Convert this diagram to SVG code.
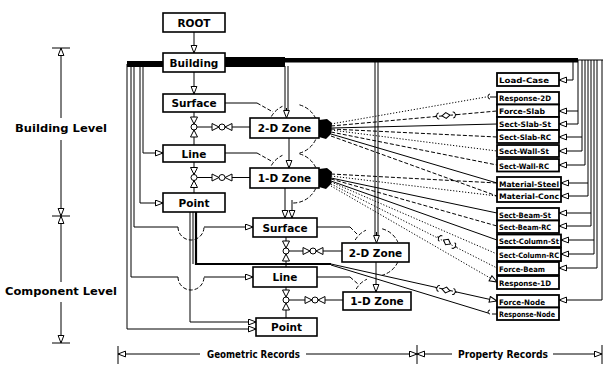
<svg xmlns="http://www.w3.org/2000/svg" width="612" height="383" viewBox="0 0 612 383">
<defs>
<marker id="a" markerUnits="userSpaceOnUse" markerWidth="10" markerHeight="8" refX="8.5" refY="3.5" orient="auto"><path d="M1,0.6 L8.5,3.5 L1,6.4 Z" fill="#fff" stroke="#000" stroke-width="1"/></marker>
<g id="vb"><path d="M-3.5,-10 L3.5,-10 L0,-3 Z M-3.5,10 L3.5,10 L0,3 Z" fill="#fff" stroke="#000" stroke-width="1"/><circle r="3" fill="#fff" stroke="#000" stroke-width="1"/></g>
<g id="hb"><path d="M-10,-3.5 L-10,3.5 L-3,0 Z M10,-3.5 L10,3.5 L3,0 Z" fill="#fff" stroke="#000" stroke-width="1"/><circle r="3" fill="#fff" stroke="#000" stroke-width="1"/></g>
<g id="brace"><path d="M-7,-3 q-2,0 -2,1.5 q0,1.5 -2,1.5 q2,0 2,1.5 q0,1.5 2,1.5 M7,-3 q2,0 2,1.5 q0,1.5 2,1.5 q-2,0 -2,1.5 q0,1.5 -2,1.5 M-4,0 L0,-3 L4,0 L0,3 Z" fill="#fff" stroke="#000" stroke-width="1"/></g>
</defs>
<style>
.n rect{fill:#fff;stroke:#000;stroke-width:1.6}
.n text{font-family:"DejaVu Sans",sans-serif;font-weight:bold;font-size:10.5px;text-anchor:middle}
.p rect{fill:#fff;stroke:#000;stroke-width:1.8}
.p text{font-family:"DejaVu Sans Condensed","DejaVu Sans",sans-serif;font-weight:bold;font-size:7.5px}
.c{fill:none;stroke:#000;stroke-width:1}
.m{marker-end:url(#a)}
.dash{stroke-dasharray:4 2}
.dot{stroke-dasharray:1.2 1.8}
.lbl{font-family:"DejaVu Sans",sans-serif;font-weight:bold;font-size:10px}
</style>
<rect width="612" height="383" fill="#fff"/>

<g id="scales">
<path class="c" d="M52,48 H70 M52,216 H70 M52,343 H70"/>
<path class="c m" d="M61,118 V48"/>
<path class="c m" d="M61,140 V216"/>
<path class="c m" d="M61,282 V216"/>
<path class="c m" d="M61,302 V343"/>
<text class="lbl" x="15" y="132" textLength="92" lengthAdjust="spacingAndGlyphs">Building Level</text>
<text class="lbl" x="5" y="295" textLength="112" lengthAdjust="spacingAndGlyphs">Component Level</text>
<path class="c" d="M118,346 V364 M417,345 V364 M602,345 V364"/>
<path class="c m" d="M200,354 H118"/>
<path class="c m" d="M306,354 H417"/>
<path class="c m" d="M452,354 H417"/>
<path class="c m" d="M553,354 H602"/>
<text class="lbl" x="207" y="358" textLength="93" lengthAdjust="spacingAndGlyphs">Geometric Records</text>
<text class="lbl" x="458" y="358" textLength="90" lengthAdjust="spacingAndGlyphs">Property Records</text>
</g>

<g id="connectors">
<!-- thick bands -->
<path d="M225,57 H285 V58 H578 V62.5 H285 V67 H225 Z" fill="#000"/>
<path d="M127,61 H163 V67 H127 Z" fill="#000"/>
<path class="c" d="M575,60 H603"/>
<!-- hierarchy -->
<path class="c m" d="M194,32 V53"/>
<path class="c m" d="M194,72 V94"/>
<path class="c" d="M194,112 V145 M197,127 H250"/>
<path class="c" d="M194,162 V193 M197,177.5 H250"/>
<path class="c" d="M286,237 V267 M289,251 H342"/>
<path class="c" d="M286,287 V318 M289,300 H343"/>
<use href="#vb" x="194" y="127"/><use href="#hb" x="222" y="127"/>
<use href="#vb" x="194" y="177.5"/><use href="#hb" x="222" y="177.5"/>
<use href="#vb" x="286" y="251"/><use href="#hb" x="313" y="251"/>
<use href="#vb" x="286" y="300"/><use href="#hb" x="315" y="300"/>
<!-- top bus into zones -->
<path class="c" d="M285,66 V112 M288,66 V112"/>
<path class="c m" d="M286.5,108 V118"/>
<path class="c" d="M375,62 V236 M378,62 V236"/>
<path class="c m" d="M376.5,232 V243"/>
<!-- zone to zone -->
<path class="c m" d="M289,138 V168"/>
<path class="c m" d="M285,188 V218"/>
<path class="c m" d="M292,200 V218"/>
<path class="c m" d="M376,262 V292"/>
<!-- feature lines to zones -->
<path class="c" d="M225,103 H257 M225,153 H257 M317,227 H350 M317,277 H350"/>
<path class="c dash" d="M257,103 L273,112 M257,153 L273,162 M350,227 L358,235 M350,277 L358,284"/>
<!-- dashed arcs -->
<path class="c dash" d="M271.35,116.5 A25,25 0 0 1 282.43,106.34 M299.47,104.85 A25,25 0 0 1 315.66,118.43 M315.66,139.57 A25,25 0 0 1 299.47,153.15"/>
<path class="c dash" d="M271.35,165.5 A25,25 0 0 1 282.43,155.34 M299.47,153.85 A25,25 0 0 1 315.66,167.43 M315.66,188.57 A25,25 0 0 1 292,203"/>
<path class="c dash" d="M355.22,240 A24,24 0 0 1 365.86,230.25 M382.21,228.82 A24,24 0 0 1 397.75,241.86 M397.75,262.14 A24,24 0 0 1 382.21,275.18 M356.22,289 A24,24 0 0 1 366.86,279.25"/>
<!-- left bus -->
<path class="c m" d="M143,64 V153 H163"/>
<path class="c m" d="M140,64 V203 H163"/>
<path class="c" d="M134,64 V227 H178 M131,64 V277 H178"/>
<path class="c dash" d="M178,227 A13,13 0 0 0 204,227 M178,277 A13,13 0 0 0 204,277"/>
<path class="c m" d="M204,227 H253"/>
<path class="c m" d="M204,277 H253"/>
<path class="c m" d="M127,64 V329 H256"/>
<path class="c m" d="M190,212 V322 H256"/>
<path class="c" d="M193,212 V264"/>
<path fill="none" stroke="#000" stroke-width="2.2" d="M196,212 V264 H331"/>
<!-- point to node records -->
<path class="c m" d="M331,264 L497,301"/>
<path class="c" d="M331,265 L488,313 M492,314 H497"/>
<path class="c" d="M490,310 q-2,0 -2,2 q0,2 2,2"/>
<use href="#brace" x="446" y="290" transform="rotate(12.5 446 290)"/>
<!-- blobs -->
<path d="M319,120 L327,119 L332,123 L331,134 L326,139 L319,137 Z" fill="#000"/>
<path d="M319,169 L327,168 L332,172 L331,184 L326,189 L319,187 Z" fill="#000"/>
<!-- fan from 2-D zone -->
<path class="c dot" d="M331,124 L486,97"/>
<path class="c" d="M490,94 q-2,0 -2,2.5 q0,2.5 2,2.5 M490,97 H497"/>
<path class="c dash" d="M331,126 L497,111"/>
<use href="#brace" x="446" y="115.5" transform="rotate(-5 446 115.5)"/>
<path class="c" d="M331,128 L497,124"/>
<path class="c dash" d="M331,129 L497,137"/>
<path class="c dot" d="M331,130 L497,151"/>
<path class="c dash" d="M331,132 L497,165"/>
<path class="c" d="M331,134 L497,183"/>
<path class="c dash" d="M331,136 L497,196"/>
<!-- fan from 1-D zone -->
<path class="c dash" d="M331,174 L497,183"/>
<path class="c dot" d="M331,176 L497,196"/>
<path class="c" d="M331,178 L497,213"/>
<path class="c dash" d="M331,179 L497,226"/>
<path class="c" d="M331,181 L497,240"/>
<path class="c dot" d="M331,182 L497,254"/>
<path class="c dot" d="M331,184 L497,268"/>
<use href="#brace" x="447" y="242" transform="rotate(29 447 242)"/>
<path class="c dot m" d="M331,186 L497,282"/>
<!-- right bus -->
<path class="c m" d="M573,60 V80 H559"/>
<path class="c m" d="M578,60 V124 H559"/>
<path class="c m" d="M578,111 H559"/>
<path class="c m" d="M582,60 V151 H559"/>
<path class="c m" d="M582,137 H559"/>
<path class="c m" d="M585,60 V165 H559"/>
<path class="c m" d="M588,60 V196 H561"/>
<path class="c m" d="M588,183 H561"/>
<path class="c m" d="M591,60 V226 H559"/>
<path class="c m" d="M591,213 H559"/>
<path class="c m" d="M594,60 V254 H561"/>
<path class="c m" d="M594,240 H561"/>
<path class="c m" d="M597,60 V268 H559"/>
<path class="c m" d="M602,60 V300 H559"/>
</g>

<g id="ROOT" class="n"><rect x="163" y="13" width="62" height="19"/><text x="194" y="26.5">ROOT</text></g>
<g id="Building" class="n"><rect x="163" y="53" width="62" height="19"/><text x="194" y="66.5">Building</text></g>
<g id="Surface" class="n"><rect x="163" y="94" width="62" height="18"/><text x="194" y="107">Surface</text></g>
<g id="Line" class="n"><rect x="163" y="145" width="62" height="17"/><text x="194" y="157.5">Line</text></g>
<g id="Point" class="n"><rect x="163" y="193" width="62" height="19"/><text x="194" y="206.5">Point</text></g>
<g id="Zone2D" class="n"><rect x="250" y="118" width="69" height="20"/><text x="284.5" y="132">2-D Zone</text></g>
<g id="Zone1D" class="n"><rect x="250" y="168" width="69" height="20"/><text x="284.5" y="182">1-D Zone</text></g>
<g id="SurfaceC" class="n"><rect x="253" y="218" width="64" height="19"/><text x="285" y="231.5">Surface</text></g>
<g id="LineC" class="n"><rect x="253" y="267" width="64" height="20"/><text x="285" y="281">Line</text></g>
<g id="PointC" class="n"><rect x="256" y="318" width="61" height="18"/><text x="286.5" y="331">Point</text></g>
<g id="Zone2DC" class="n"><rect x="342" y="243" width="67" height="19"/><text x="375.5" y="256.5">2-D Zone</text></g>
<g id="Zone1DC" class="n"><rect x="343" y="292" width="68" height="18"/><text x="377" y="305">1-D Zone</text></g>

<g id="LoadCase" class="p"><rect x="497" y="73" width="62" height="13"/><text x="499" y="82.5" textLength="50" lengthAdjust="spacingAndGlyphs">Load-Case</text></g>
<g id="Response2D" class="p"><rect x="497" y="92" width="62" height="12.5"/><text x="499" y="101" textLength="52" lengthAdjust="spacingAndGlyphs">Response-2D</text></g>
<g id="ForceSlab" class="p"><rect x="497" y="104.5" width="62" height="12.5"/><text x="499" y="113.5" textLength="46" lengthAdjust="spacingAndGlyphs">Force-Slab</text></g>
<g id="SectSlabSt" class="p"><rect x="497" y="117" width="62" height="13"/><text x="499" y="126.5" textLength="52" lengthAdjust="spacingAndGlyphs">Sect-Slab-St</text></g>
<g id="SectSlabRC" class="p"><rect x="497" y="130" width="62" height="13"/><text x="499" y="139.5" textLength="52" lengthAdjust="spacingAndGlyphs">Sect-Slab-RC</text></g>
<g id="SectWallSt" class="p"><rect x="497" y="145" width="62" height="12"/><text x="499" y="154" textLength="50" lengthAdjust="spacingAndGlyphs">Sect-Wall-St</text></g>
<g id="SectWallRC" class="p"><rect x="497" y="159" width="62" height="12.5"/><text x="499" y="168.5" textLength="50" lengthAdjust="spacingAndGlyphs">Sect-Wall-RC</text></g>
<g id="MaterialSteel" class="p"><rect x="497" y="177" width="64" height="12.5"/><text x="499" y="186.5" textLength="60" lengthAdjust="spacingAndGlyphs">Material-Steel</text></g>
<g id="MaterialConc" class="p"><rect x="497" y="189.5" width="64" height="12.5"/><text x="499" y="199" textLength="60" lengthAdjust="spacingAndGlyphs">Material-Conc</text></g>
<g id="SectBeamSt" class="p"><rect x="497" y="208" width="62" height="12.5"/><text x="499" y="217.5" textLength="52" lengthAdjust="spacingAndGlyphs">Sect-Beam-St</text></g>
<g id="SectBeamRC" class="p"><rect x="497" y="220.5" width="62" height="12.5"/><text x="499" y="230" textLength="52" lengthAdjust="spacingAndGlyphs">Sect-Beam-RC</text></g>
<g id="SectColumnSt" class="p"><rect x="497" y="234.5" width="64" height="12.5"/><text x="499" y="244" textLength="60" lengthAdjust="spacingAndGlyphs">Sect-Column-St</text></g>
<g id="SectColumnRC" class="p"><rect x="497" y="248" width="64" height="13"/><text x="499" y="257.5" textLength="60" lengthAdjust="spacingAndGlyphs">Sect-Column-RC</text></g>
<g id="ForceBeam" class="p"><rect x="497" y="262" width="62" height="13"/><text x="499" y="271.5" textLength="46" lengthAdjust="spacingAndGlyphs">Force-Beam</text></g>
<g id="Response1D" class="p"><rect x="497" y="276" width="62" height="13"/><text x="499" y="285.5" textLength="52" lengthAdjust="spacingAndGlyphs">Response-1D</text></g>
<g id="ForceNode" class="p"><rect x="497" y="295" width="62" height="12.5"/><text x="499" y="304.5" textLength="46" lengthAdjust="spacingAndGlyphs">Force-Node</text></g>
<g id="ResponseNode" class="p"><rect x="497" y="307.5" width="62" height="12.5"/><text x="499" y="317" textLength="56" lengthAdjust="spacingAndGlyphs">Response-Node</text></g>
</svg>
